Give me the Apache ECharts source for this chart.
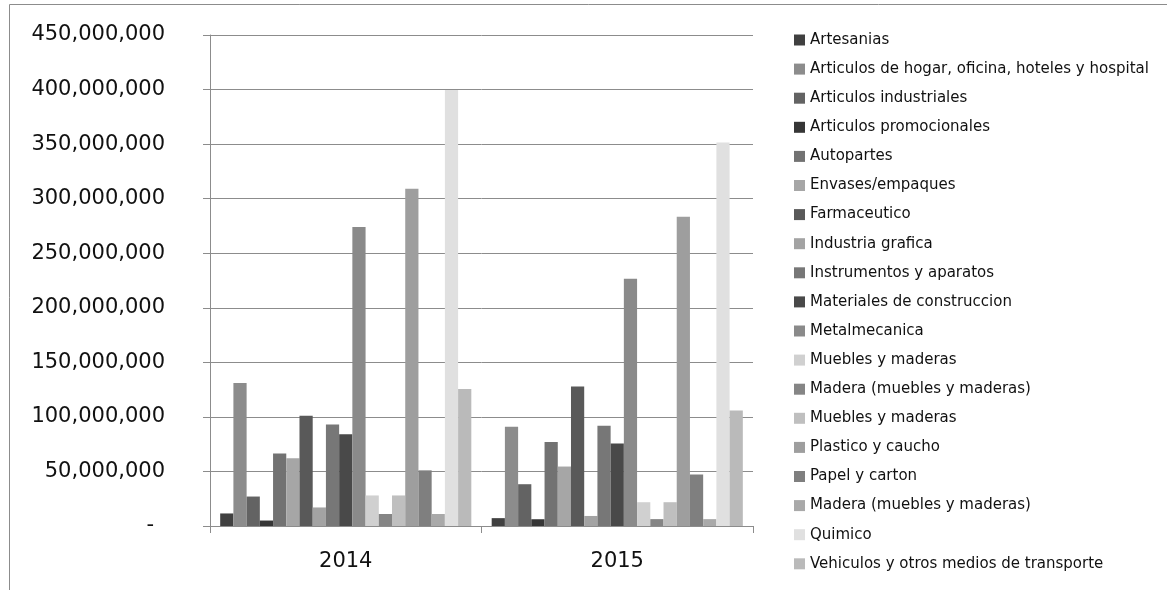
<!DOCTYPE html>
<html>
<head>
<meta charset="utf-8">
<script src="https://cdn.jsdelivr.net/npm/echarts@6/dist/echarts.min.js"></script>
<style>
  html, body { margin: 0; padding: 0; background: #fff; }
  #chart { width: 1167px; height: 590px; }
</style>
</head>
<body>
<div id="chart"></div>
<script>
// Years on the category axis
const years = ['2014', '2015'];

// Sector names (two names repeat; a trailing space keeps each series distinct)
const sectors = [
  'Artesanias',
  'Articulos de hogar, oficina, hoteles y hospital',
  'Articulos industriales',
  'Articulos promocionales',
  'Autopartes',
  'Envases/empaques',
  'Farmaceutico',
  'Industria grafica',
  'Instrumentos y aparatos',
  'Materiales de construccion',
  'Metalmecanica',
  'Muebles y maderas',
  'Madera (muebles y maderas)',
  'Muebles y maderas ',
  'Plastico y caucho',
  'Papel y carton',
  'Madera (muebles y maderas) ',
  'Quimico',
  'Vehiculos y otros medios de transporte'
];

// Values per sector for 2014 and 2015
const values2014 = [
  11500000, 131000000, 27000000, 5000000, 66500000, 62000000, 101000000,
  17000000, 93000000, 84000000, 274000000, 28000000, 11000000, 28000000,
  309000000, 51000000, 11000000, 399500000, 125500000
];
const values2015 = [
  7200000, 91000000, 38300000, 6200000, 77000000, 54500000, 127800000,
  9200000, 91800000, 75500000, 226500000, 21800000, 6300000, 21800000,
  283500000, 47200000, 6300000, 351500000, 105800000
];

// Grey shades for each sector
const shades = [
  '#404040', '#8c8c8c', '#636363', '#363636', '#727272', '#a6a6a6', '#595959',
  '#a3a3a3', '#777777', '#494949', '#8a8a8a', '#d0d0d0', '#858585', '#bfbfbf',
  '#9e9e9e', '#7f7f7f', '#a9a9a9', '#e0e0e0', '#bababa'
];

// Value-axis ticks
const yMin = 0, yMax = 450000000, yStep = 50000000;

const FONT = 'DejaVu Sans, sans-serif';

const chart = echarts.init(document.getElementById('chart'), null, { renderer: 'canvas' });

const series = sectors.map((name, i) => ({
  name: name,
  type: 'bar',
  barGap: '0%',
  barCategoryGap: '7.5%',
  itemStyle: { color: shades[i] },
  emphasis: { disabled: true },
  data: [values2014[i], values2015[i]]
}));

chart.setOption({
  animation: false,
  backgroundColor: '#ffffff',
  graphic: [{
    type: 'rect',
    shape: { x: 9.5, y: 4.5, width: 1200, height: 700 },
    style: { fill: 'none', stroke: '#8c8c8c', lineWidth: 1 },
    silent: true,
    z: -1
  }],
  grid: { left: 210, right: 414, top: 35, bottom: 64, containLabel: false },
  legend: {
    orient: 'vertical',
    left: 794,
    top: 32,
    padding: 0,
    icon: 'rect',
    itemWidth: 11,
    itemHeight: 11,
    itemGap: 13.1,
    selectedMode: false,
    data: sectors,
    textStyle: { fontFamily: FONT, fontSize: 15, color: '#111111', lineHeight: 16 }
  },
  xAxis: {
    type: 'category',
    data: years,
    axisLine: { lineStyle: { color: '#8c8c8c', width: 1 } },
    axisTick: { show: true, length: 7, lineStyle: { color: '#8c8c8c' } },
    axisLabel: { fontFamily: FONT, fontSize: 21, color: '#111111', margin: 25 },
    splitLine: { show: false }
  },
  yAxis: {
    type: 'value',
    min: yMin,
    max: yMax,
    interval: yStep,
    axisLine: { show: true, lineStyle: { color: '#8c8c8c', width: 1 } },
    axisTick: { show: true, length: 7, lineStyle: { color: '#8c8c8c' } },
    axisLabel: {
      fontFamily: FONT,
      fontSize: 21,
      color: '#111111',
      margin: 45,
      formatter: v => v === 0 ? '{dash|-}' : v.toLocaleString('en-US'),
      rich: {
        dash: { fontFamily: FONT, fontSize: 21, color: '#111111', padding: [0, 11, 0, 0] }
      }
    },
    splitLine: { show: true, lineStyle: { color: '#8c8c8c', width: 1 } }
  },
  series: series
});
</script>
</body>
</html>
